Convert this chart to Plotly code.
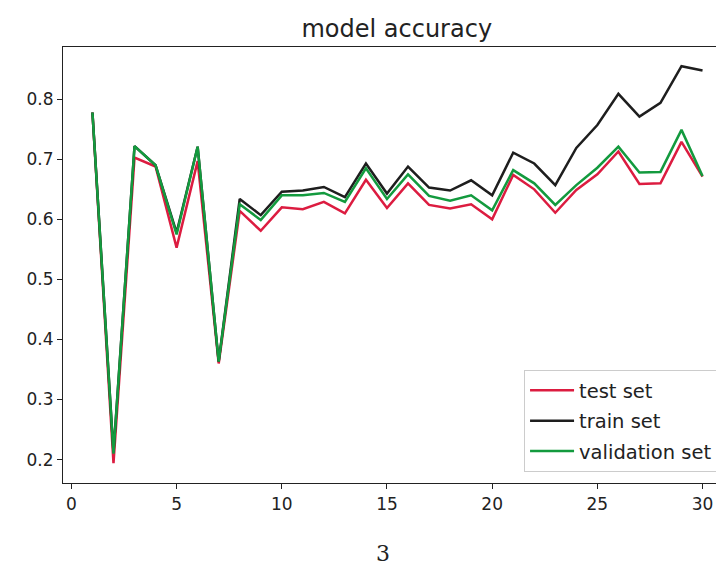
import plotly.graph_objects as go

epochs = list(range(1, 31))
test_acc = [0.778, 0.194, 0.703, 0.688, 0.553, 0.697, 0.360, 0.614, 0.581, 0.620,
            0.617, 0.629, 0.610, 0.666, 0.619, 0.660, 0.624, 0.618, 0.625, 0.600,
            0.674, 0.650, 0.611, 0.649, 0.675, 0.713, 0.659, 0.660, 0.729, 0.671]
train_acc = [0.778, 0.212, 0.722, 0.690, 0.578, 0.721, 0.363, 0.634, 0.607, 0.646,
             0.648, 0.654, 0.637, 0.693, 0.643, 0.688, 0.653, 0.648, 0.665, 0.640,
             0.711, 0.693, 0.657, 0.719, 0.757, 0.809, 0.771, 0.794, 0.855, 0.848]
val_acc = [0.778, 0.210, 0.722, 0.690, 0.575, 0.721, 0.363, 0.625, 0.599, 0.640,
           0.640, 0.644, 0.629, 0.685, 0.634, 0.675, 0.639, 0.631, 0.640, 0.615,
           0.682, 0.660, 0.624, 0.657, 0.686, 0.721, 0.678, 0.679, 0.749, 0.672]

series = [("test set", test_acc, "#dc1c40"),
          ("train set", train_acc, "#1e1e1e"),
          ("validation set", val_acc, "#139a3e")]

fig = go.Figure()
for name, vals, color in series:
    fig.add_trace(go.Scatter(x=epochs, y=vals, mode="lines", name=name,
                             legendgroup=name,
                             line=dict(color=color, width=2.5)))

font = "DejaVu Sans"
fig.update_layout(
    width=716, height=560,
    margin=dict(l=55, r=0, t=39, b=85),
    paper_bgcolor="white", plot_bgcolor="white",
    font=dict(family=font, size=17, color="#222"),
    showlegend=True,
    legend=dict(x=0.991, y=0.025, xanchor="right", yanchor="bottom",
                bgcolor="white", bordercolor="#cccccc", borderwidth=1,
                font=dict(family=font, size=19.5, color="#222"),
                tracegroupgap=2, itemwidth=44),
    title=dict(text="model accuracy", x=0.543, xanchor="center",
               y=0.963, yanchor="middle",
               font=dict(family=font, size=24, color="#222")),
    annotations=[dict(text="3", xref="paper", yref="paper", x=0.484, y=-0.161,
                      xanchor="center", yanchor="middle", showarrow=False,
                      font=dict(family="DejaVu Serif", size=22, color="#222"))],
)
fig.update_xaxes(range=[-0.4, 31.02], tickvals=[0, 5, 10, 15, 20, 25, 30],
                 showgrid=False, zeroline=False, showline=True, linecolor="#222",
                 linewidth=1.2, mirror=True, ticks="outside", ticklen=5,
                 tickcolor="#222")
fig.update_yaxes(range=[0.161, 0.887], tickvals=[0.2, 0.3, 0.4, 0.5, 0.6, 0.7, 0.8],
                 ticktext=["0.2", "0.3", "0.4", "0.5", "0.6", "0.7", "0.8"],
                 showgrid=False, zeroline=False, showline=True, linecolor="#222",
                 linewidth=1.2, ticks="outside", ticklen=5, tickcolor="#222")

fig.write_html("out.html")
